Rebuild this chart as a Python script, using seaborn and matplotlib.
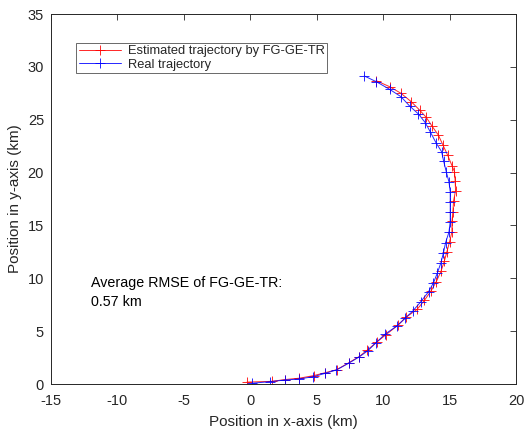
import matplotlib
matplotlib.use("Agg")
import matplotlib.pyplot as plt
import seaborn as sns
import pandas as pd

# Real trajectory (km), from end (top) to start (bottom)
real_x = [8.58, 9.48, 10.48, 11.34, 11.99, 12.66, 13.17, 13.54, 14.00, 14.40,
          14.55, 14.75, 14.95, 15.05, 15.05, 15.05, 15.05, 14.95, 14.70, 14.54,
          14.35, 14.09, 13.79, 13.42, 12.84, 12.24, 11.66, 11.04, 10.16, 9.46,
          8.85, 8.22, 7.40, 6.47, 5.64, 4.74, 3.63, 2.63, 1.45, 0.13]
real_y = [29.14, 28.60, 27.88, 27.18, 26.30, 25.54, 24.72, 23.87, 22.77, 21.98,
          21.10, 20.08, 19.14, 18.19, 17.25, 16.30, 15.35, 14.35, 13.37, 12.42,
          11.48, 10.53, 9.58, 8.73, 7.79, 6.91, 6.22, 5.49, 4.73, 3.90,
          3.15, 2.58, 1.96, 1.32, 1.01, 0.69, 0.47, 0.38, 0.22, 0.07]

# Estimated trajectory by FG-GE-TR (km)
est_x = [9.48, 10.48, 11.34, 12.11, 12.74, 13.24, 13.67, 14.15, 14.50, 14.85,
         15.20, 15.37, 15.42, 15.45, 15.30, 15.25, 15.18, 15.18, 15.00, 14.80,
         14.60, 14.35, 14.00, 13.60, 13.10, 12.55, 11.71, 11.10, 10.23, 9.55,
         8.80, 8.20, 7.40, 6.50, 5.64, 4.76, 3.70, 2.60, 1.63, -0.25]
est_y = [28.69, 28.13, 27.50, 26.71, 25.92, 25.23, 24.41, 23.56, 22.61, 21.66,
         20.60, 20.08, 19.23, 18.29, 17.31, 16.30, 15.40, 14.41, 13.45, 12.52,
         11.60, 10.65, 9.68, 8.80, 7.90, 7.05, 6.31, 5.55, 4.68, 4.00,
         3.20, 2.60, 2.00, 1.35, 1.07, 0.79, 0.55, 0.42, 0.25, 0.18]

x_ticks = [-15, -10, -5, 0, 5, 10, 15, 20]
y_ticks = [0, 5, 10, 15, 20, 25, 30, 35]

sns.set_style("white")
plt.rcParams['font.family'] = ['Liberation Sans', 'DejaVu Sans']

fig = plt.figure(figsize=(5.28, 4.30), dpi=100)
ax = fig.add_axes([51 / 528, 46 / 430, 465 / 528, 370 / 430])

est_df = pd.DataFrame({"x": est_x, "y": est_y})
real_df = pd.DataFrame({"x": real_x, "y": real_y})

sns.lineplot(data=est_df, x="x", y="y", sort=False, estimator=None, ax=ax,
             color=(1, 0, 0), linewidth=0.7, label="Estimated trajectory by FG-GE-TR")
sns.lineplot(data=real_df, x="x", y="y", sort=False, estimator=None, ax=ax,
             color=(0, 0, 1), linewidth=0.7, label="Real trajectory")

colors = [(1, 0, 0), (0, 0, 1)]


def style_line(ln, c):
    ln.set_linestyle("-")
    ln.set_linewidth(0.7)
    ln.set_color(c)
    ln.set_marker("+")
    ln.set_markersize(7)
    ln.set_markeredgewidth(0.7)
    ln.set_markeredgecolor(c)
    ln.set_markerfacecolor(c)


for ln, c in zip(ax.lines, colors):
    style_line(ln, c)
    ln.set_alpha(0.85)

ax.set_xlim(-15, 20)
ax.set_ylim(0, 35)
ax.set_xticks(x_ticks)
ax.set_yticks(y_ticks)
ax.set_xticklabels([str(t) for t in x_ticks])
ax.set_yticklabels([str(t) for t in y_ticks])
ax.tick_params(direction="in", top=True, right=True, length=4, width=0.6,
               colors=(0.15, 0.15, 0.15), labelsize=10.5)
ax.tick_params(axis="x", pad=7)
ax.tick_params(axis="y", pad=5)
for sp in ax.spines.values():
    sp.set_color((0.15, 0.15, 0.15))
    sp.set_linewidth(0.7)

ax.set_xlabel("Position in x-axis (km)", fontsize=11, color=(0.15, 0.15, 0.15), labelpad=5)
ax.set_ylabel("Position in y-axis (km)", fontsize=11, color=(0.15, 0.15, 0.15))

leg = ax.legend(loc="upper left", bbox_to_anchor=(0.054, 0.922), borderaxespad=0,
                fontsize=9.3, frameon=True, fancybox=False, handlelength=3.3,
                handletextpad=0.5, borderpad=0.2, labelspacing=0.1)
leg.get_frame().set_edgecolor((0.15, 0.15, 0.15))
leg.get_frame().set_linewidth(0.6)
for h, c in zip(leg.legend_handles, colors):
    style_line(h, c)

ax.text(-12, 8.7, "Average RMSE of FG-GE-TR:\n0.57 km", fontsize=10.3,
        va="center", ha="left", linespacing=1.45, color="black")

fig.savefig("out.png", dpi=100)
